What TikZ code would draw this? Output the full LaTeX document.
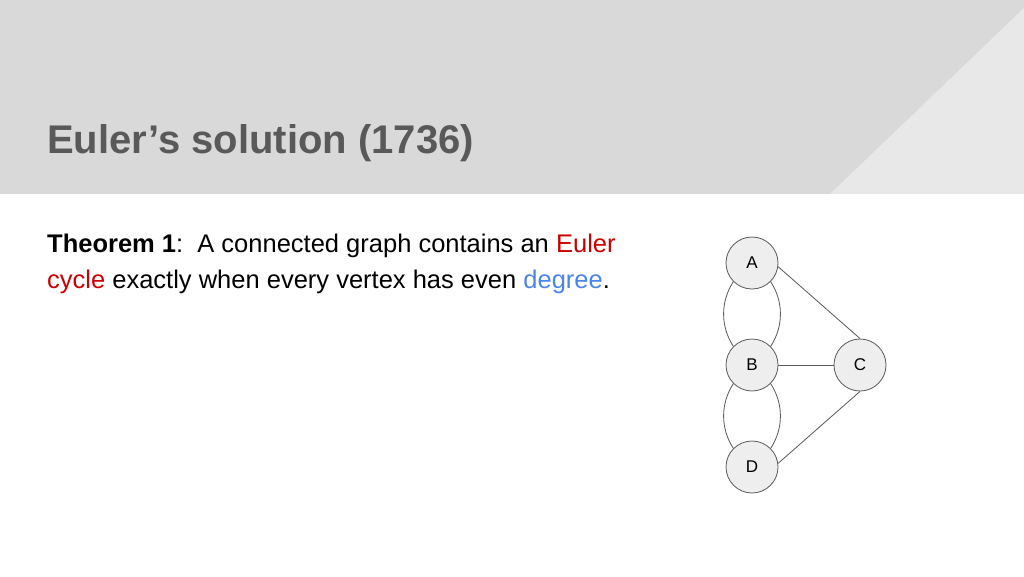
\documentclass[tikz,border=0pt]{standalone}
\usepackage{fontspec}
\setmainfont{Liberation Sans}
\definecolor{hdr}{HTML}{D9D9D9}
\definecolor{tri}{HTML}{E8E8E8}
\definecolor{ttl}{HTML}{595959}
\definecolor{ered}{HTML}{CC0000}
\definecolor{eblue}{HTML}{4A86E8}
\definecolor{vfill}{HTML}{EEEEEE}
\definecolor{vline}{HTML}{595959}
\tikzset{
  vertex/.style={circle, draw=vline, fill=vfill, line width=0.8pt, minimum size=52pt, inner sep=0pt, font=\fontsize{17}{17}\selectfont},
  edge/.style={draw=vline, line width=0.8pt},
  body/.style={anchor=base west, inner sep=0pt, font=\fontsize{25.5}{36}\selectfont}
}
\begin{document}
\begin{tikzpicture}[x=1pt,y=-1pt]
\useasboundingbox (0,0) rectangle (1024,576);
\fill[white] (0,0) rectangle (1024,576);
\fill[hdr] (0,0) rectangle (1024,194);
\fill[tri] (830,194) -- (1024,194) -- (1024,8) -- cycle;
\node[anchor=base west, inner sep=0pt, text=ttl, font=\fontsize{40}{40}\selectfont\bfseries] (title) at (47,153) {Euler’s solution (1736)};
\node[body] (thm1) at (47,252)
  {\textbf{Theorem 1}:\ \ A connected graph contains an \textcolor{ered}{Euler}};
\node[body] (thm2) at (47,288)
  {\textcolor{ered}{cycle} exactly when every vertex has even \textcolor{eblue}{degree}.};
\node[vertex] (A) at (752,263) {A};
\node[vertex] (B) at (752,365) {B};
\node[vertex] (C) at (860,365) {C};
\node[vertex] (D) at (752,467) {D};
\draw[edge] (A.-8) -- (C.north);
\draw[edge] (B.east) -- (C.west);
\draw[edge] (D.8) -- (C.south);
\draw[edge] (A.225) .. controls +(-13,20) and +(-13,-20) .. (B.135);
\draw[edge] (A.-45) .. controls +(13,20) and +(13,-20) .. (B.45);
\draw[edge] (B.225) .. controls +(-13,20) and +(-13,-20) .. (D.135);
\draw[edge] (B.-45) .. controls +(13,20) and +(13,-20) .. (D.45);
\end{tikzpicture}
\end{document}
